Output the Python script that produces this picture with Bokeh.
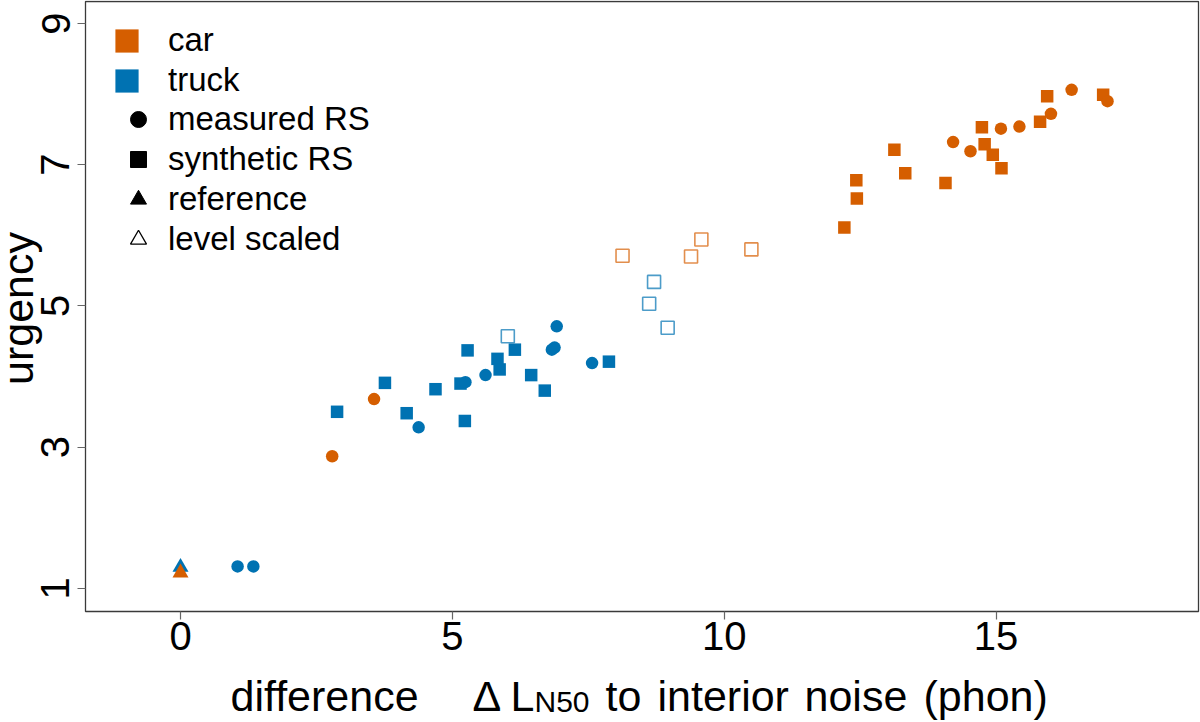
import math
from bokeh.plotting import figure
from bokeh.models import Range1d, FixedTicker, Legend, LegendItem, Label, BoxAnnotation
from bokeh.embed import file_html
from bokeh.resources import INLINE

ORANGE = "#D55E00"
BLUE = "#0072B2"
FONT = "Liberation Sans"

# ---------------- data ----------------
x_ticks = [0, 5, 10, 15]
y_ticks = [1, 3, 5, 7, 9]

car_measured_x = [2.79, 3.56, 14.21, 14.53, 15.09, 15.43, 16.01, 16.39, 17.05]
car_measured_y = [2.87, 3.68, 7.32, 7.19, 7.51, 7.54, 7.72, 8.06, 7.90]

car_synthetic_x = [12.21, 12.44, 12.43, 13.13, 13.33, 14.07, 14.74, 14.79, 14.94, 15.10, 15.81, 15.94, 16.97]
car_synthetic_y = [6.11, 6.52, 6.78, 7.21, 6.88, 6.74, 7.53, 7.29, 7.14, 6.95, 7.61, 7.97, 7.99]

car_scaled_x = [8.13, 9.39, 9.58, 10.50]
car_scaled_y = [5.71, 5.70, 5.94, 5.80]

car_reference_x = [0.0]
car_reference_y = [1.22]

truck_measured_x = [1.05, 1.34, 4.38, 5.24, 5.61, 6.83, 6.88, 6.92, 7.57]
truck_measured_y = [1.31, 1.31, 3.28, 3.92, 4.02, 4.38, 4.41, 4.71, 4.19]

truck_synthetic_x = [2.88, 3.76, 4.16, 4.69, 5.15, 5.23, 5.28, 5.83, 5.87, 6.15, 6.45, 6.70, 7.88]
truck_synthetic_y = [3.50, 3.91, 3.48, 3.82, 3.90, 3.37, 4.37, 4.25, 4.10, 4.38, 4.02, 3.80, 4.21]

truck_scaled_x = [6.02, 8.62, 8.71, 8.96]
truck_scaled_y = [4.57, 5.03, 5.34, 4.69]

truck_reference_x = [0.0]
truck_reference_y = [1.30]

x_title_words = ["difference", "Δ", "L", "to", "interior", "noise", "(phon)"]
x_title_sub = "N50"
y_title = "urgency"

# ---------------- geometry (pixels of the 1200x722 canvas) ----------------
W, H = 1200, 722
XPX, YPX = 54.37, 70.6          # px per data unit
X0_PX, Y9_PX = 180, 23          # where x=0 and y=9 sit
BOX_L, BOX_R, BOX_T, BOX_B = 85, 1198, 1, 611

def dx(px):
    return (px - X0_PX) / XPX

def dy(py):
    return 9 - (py - Y9_PX) / YPX

p = figure(width=W, height=H, output_backend="svg", toolbar_location=None,
           x_range=Range1d(dx(0), dx(W)), y_range=Range1d(dy(H), dy(0)),
           min_border_left=0, min_border_right=0, min_border_top=0,
           min_border_bottom=0)
p.xgrid.grid_line_color = None
p.ygrid.grid_line_color = None
p.outline_line_color = None
p.background_fill_color = "white"
p.border_fill_color = "white"

# plot box
p.add_layout(BoxAnnotation(left=dx(BOX_L), right=dx(BOX_R), top=dy(BOX_T),
                           bottom=dy(BOX_B), fill_alpha=0, line_color="#3a3a3a",
                           line_alpha=1.0, line_width=1.3, level="underlay"))

p.xaxis.ticker = FixedTicker(ticks=x_ticks)
p.yaxis.ticker = FixedTicker(ticks=y_ticks)
p.xaxis.fixed_location = dy(BOX_B)
p.yaxis.fixed_location = dx(BOX_L)
p.xaxis.bounds = (dx(BOX_L), dx(BOX_R))
p.yaxis.bounds = (dy(BOX_B), dy(BOX_T))
for ax in (p.xaxis, p.yaxis):
    ax.major_tick_out = 8
    ax.major_tick_in = 0
    ax.minor_tick_out = 0
    ax.minor_tick_in = 0
    ax.axis_line_color = None
    ax.major_tick_line_color = "#666666"
    ax.major_tick_line_width = 1.2
    ax.major_label_text_font = FONT
    ax.major_label_text_font_size = "40px"
    ax.major_label_text_color = "black"
p.xaxis.major_label_standoff = 2
p.yaxis.major_label_standoff = 8
p.yaxis.major_label_orientation = "parallel"

# ---------------- points ----------------
SZ = 12.5
p.scatter(truck_synthetic_x, truck_synthetic_y, marker="square", size=SZ,
          fill_color=BLUE, line_color=None)
p.scatter(truck_measured_x, truck_measured_y, marker="circle", size=SZ,
          fill_color=BLUE, line_color=None)
p.scatter(car_synthetic_x, car_synthetic_y, marker="square", size=SZ,
          fill_color=ORANGE, line_color=None)
p.scatter(car_measured_x, car_measured_y, marker="circle", size=SZ,
          fill_color=ORANGE, line_color=None)
p.scatter(truck_scaled_x, truck_scaled_y, marker="square", size=13,
          fill_color=None, line_color=BLUE, line_alpha=0.7, line_width=1.6)
p.scatter(car_scaled_x, car_scaled_y, marker="square", size=13,
          fill_color=None, line_color=ORANGE, line_alpha=0.7, line_width=1.6)
p.scatter(truck_reference_x, truck_reference_y, marker="triangle", size=16,
          fill_color=BLUE, line_color=None)
p.scatter(car_reference_x, car_reference_y, marker="triangle", size=16,
          fill_color=ORANGE, line_color=None)

# ---------------- legends (proxy renderers with no visible point) ----------------
NAN = [float("nan")]
r_car = p.rect(x=NAN, y=NAN, width=1, height=1, fill_color=ORANGE, line_color=None)
r_truck = p.rect(x=NAN, y=NAN, width=1, height=1, fill_color=BLUE, line_color=None)
r_meas = p.scatter(x=NAN, y=NAN, marker="circle", fill_color="black", line_color="black")
r_syn = p.scatter(x=NAN, y=NAN, marker="square", fill_color="black", line_color="black")
r_ref = p.scatter(x=NAN, y=NAN, marker="triangle", fill_color="black", line_color="black")
r_lvl = p.scatter(x=NAN, y=NAN, marker="triangle", fill_color=None, line_color="black",
                  line_width=1.3)

common = dict(spacing=0, padding=0, margin=0, background_fill_alpha=0,
              border_line_color=None, label_text_font=FONT,
              label_text_font_size="33px", label_text_color="black",
              label_height=40)

legA = Legend(items=[LegendItem(label="car", renderers=[r_car]),
                     LegendItem(label="truck", renderers=[r_truck])],
              location=(112, H - 100), glyph_width=29, glyph_height=29,
              label_standoff=27, **common)
legB = Legend(items=[LegendItem(label="measured RS", renderers=[r_meas]),
                     LegendItem(label="synthetic RS", renderers=[r_syn]),
                     LegendItem(label="reference", renderers=[r_ref]),
                     LegendItem(label="level scaled", renderers=[r_lvl])],
              location=(118, H - 259), glyph_width=40, glyph_height=40,
              label_standoff=10, **common)
p.add_layout(legA)
p.add_layout(legB)

# ---------------- axis titles ----------------
lab = dict(text_font=FONT, text_color="black", text_baseline="alphabetic")
p.add_layout(Label(x=dx(17), y=dy(308), text=y_title, angle=math.pi / 2,
                   text_align="center", text_font_size="43px", **lab))

word_px = [230, 472, 510, 605, 657, 804, 923]
for word, px in zip(x_title_words, word_px):
    p.add_layout(Label(x=dx(px), y=dy(695), text=word, text_align="left",
                       text_font_size="43px", **lab))
p.add_layout(Label(x=dx(534), y=dy(701), text=x_title_sub, text_align="left",
                   text_font_size="30px", **lab))

open("out.html", "w").write(file_html(p, INLINE))
